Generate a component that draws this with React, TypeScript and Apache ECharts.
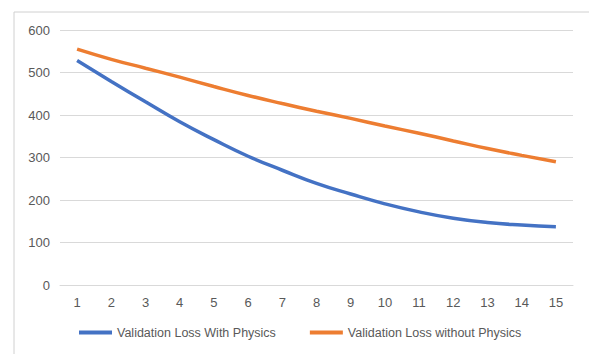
import React, { useEffect, useRef } from "react";
import * as echarts from "echarts";

const categories = ["1", "2", "3", "4", "5", "6", "7", "8", "9", "10", "11", "12", "13", "14", "15"];
const withPhysics = [528, 479, 431, 384, 342, 303, 270, 239, 214, 191, 172, 157, 147, 141, 137];
const withoutPhysics = [555, 531, 510, 489, 467, 446, 427, 409, 392, 374, 357, 339, 321, 305, 290];
const seriesNames = ["Validation Loss With Physics", "Validation Loss without Physics"];

export default function App() {
  const ref = useRef<HTMLDivElement>(null);
  useEffect(() => {
    if (!ref.current) return;
    const chart = echarts.init(ref.current, undefined, { renderer: "svg" });
    const font = "Liberation Sans, Arial, sans-serif";
    chart.setOption({
      animation: false,
      backgroundColor: "#ffffff",
      graphic: [
        {
          type: "rect",
          shape: { x: 14, y: 12, width: 800, height: 600 },
          style: { fill: "none", stroke: "#d0d0d0", lineWidth: 1 },
          silent: true,
        },
      ],
      grid: { left: 60, right: 16, top: 30, bottom: 69 },
      legend: {
        left: 74,
        bottom: 10,
        itemWidth: 33,
        itemHeight: 4,
        itemGap: 34,
        icon: "rect",
        textStyle: { color: "#595959", fontSize: 12.5, fontFamily: font },
        data: seriesNames,
      },
      xAxis: {
        type: "category",
        data: categories,
        boundaryGap: true,
        axisLine: { show: true, lineStyle: { color: "#d9d9d9", width: 1 } },
        axisTick: { show: false },
        axisLabel: { color: "#595959", fontSize: 13, fontFamily: font, margin: 11 },
      },
      yAxis: {
        type: "value",
        min: 0,
        max: 600,
        interval: 100,
        axisLine: { show: false },
        axisTick: { show: false },
        splitLine: { lineStyle: { color: "#d9d9d9", width: 1 } },
        axisLabel: { color: "#595959", fontSize: 13, fontFamily: font, margin: 10 },
      },
      series: [
        {
          name: seriesNames[0],
          type: "line",
          data: withPhysics,
          smooth: true,
          symbol: "none",
          lineStyle: { color: "#4472C4", width: 3.5 },
          itemStyle: { color: "#4472C4" },
        },
        {
          name: seriesNames[1],
          type: "line",
          data: withoutPhysics,
          smooth: true,
          symbol: "none",
          lineStyle: { color: "#ED7D31", width: 3.5 },
          itemStyle: { color: "#ED7D31" },
        },
      ],
    });
    return () => chart.dispose();
  }, []);
  return <div ref={ref} style={{ width: 589, height: 354, position: "fixed", left: 0, top: 0 }} />;
}
